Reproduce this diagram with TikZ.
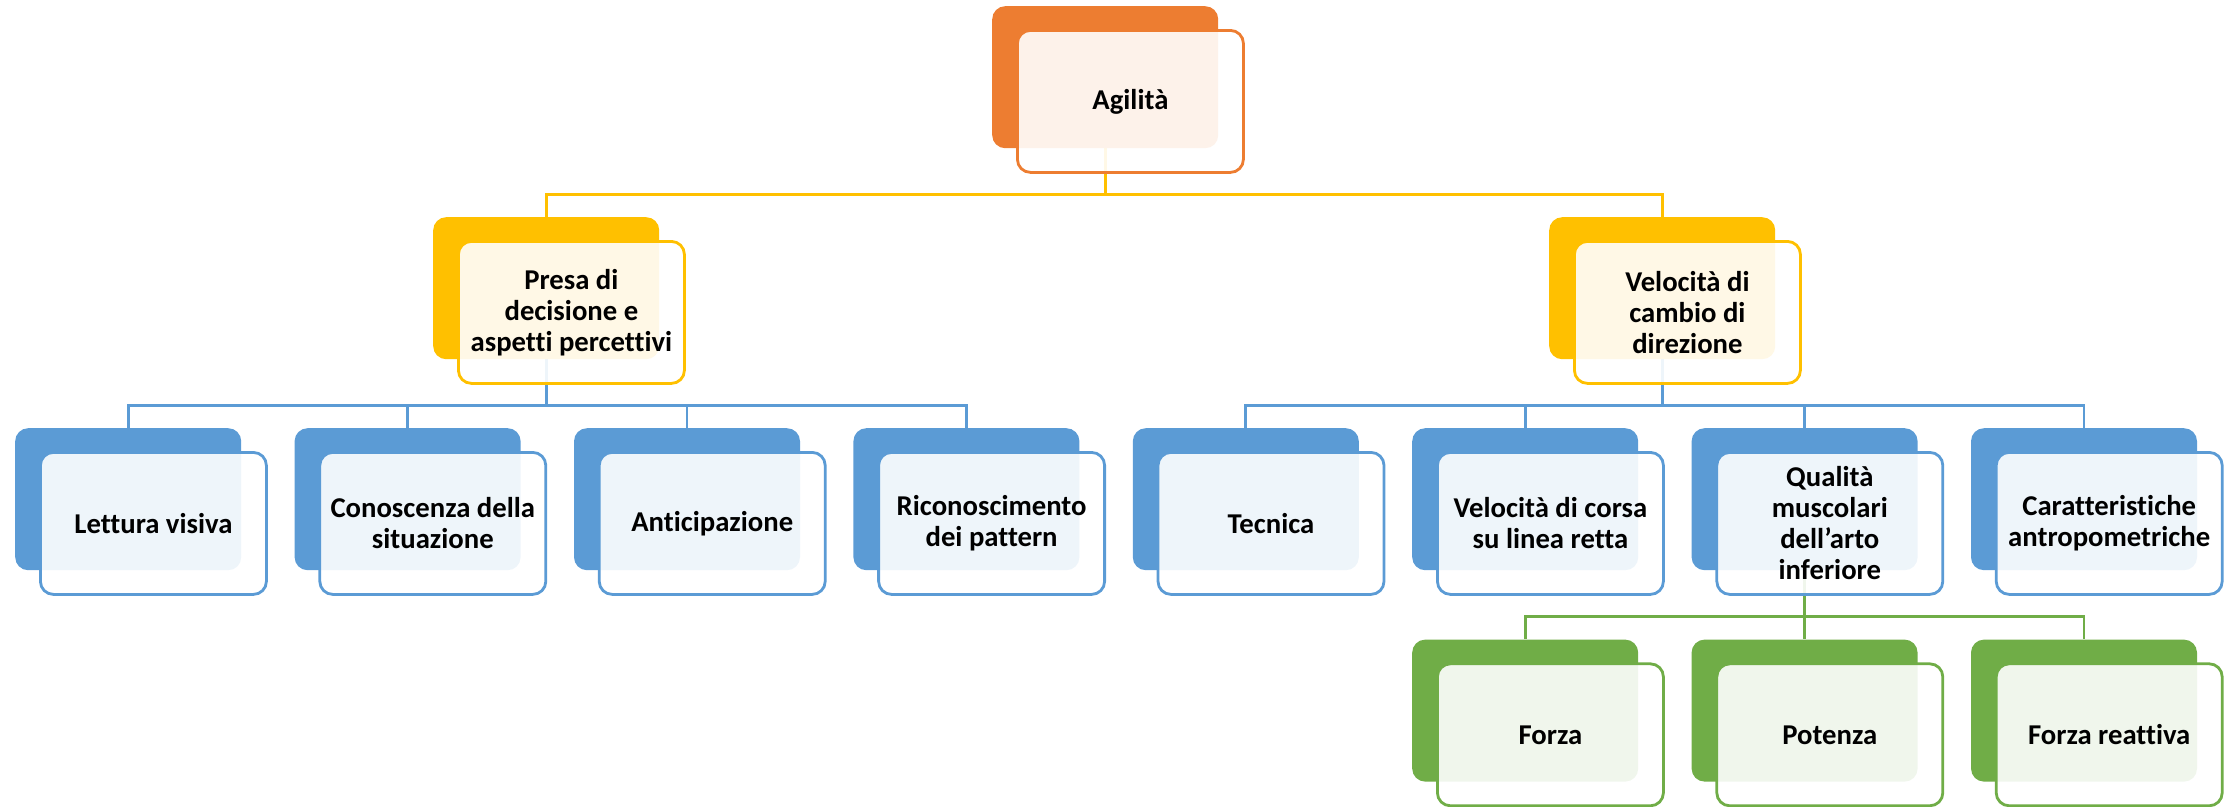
\documentclass[tikz,border=0pt]{standalone}
\usepackage{fontspec}
\setmainfont[Ligatures=NoCommon]{Carlito}
\usepackage{xcolor}
\definecolor{cOrange}{HTML}{ED7D31}
\definecolor{cYellow}{HTML}{FFC000}
\definecolor{cBlue}{HTML}{5B9BD5}
\definecolor{cGreen}{HTML}{70AD47}
\usetikzlibrary{positioning,backgrounds}
\tikzset{
  node-back/.style={fill=#1,rounded corners=13pt,inner sep=0pt,
    minimum width=226pt,minimum height=142pt,anchor=north west},
  node-front/.style={draw=#1,line width=2.8pt,rounded corners=13pt,
    fill=white,fill opacity=0.9,text opacity=1,inner sep=0pt,
    minimum width=226pt,minimum height=142pt,align=center,
    font=\bfseries\fontsize{28.7}{31}\selectfont},
  link/.style={line width=2.8pt,draw=#1},
}

\begin{document}
\begin{tikzpicture}[x=1pt,y=-1pt]
  \useasboundingbox (0,0) rectangle (2233,806);
  % back boxes
  \node[node-back=cOrange] at (992,6)   (agi)   {};
  \node[node-back=cYellow] at (433,217) (presa) {};
  \node[node-back=cYellow] at (1549,217)(velo)  {};
  \node[node-back=cBlue]   at (15,428)  (lett)  {};
  \node[node-back=cBlue,right=53pt of lett] (cono) {};
  \node[node-back=cBlue,right=53pt of cono] (anti) {};
  \node[node-back=cBlue,right=53pt of anti] (rico) {};
  \node[node-back=cBlue,right=53pt of rico] (tecn) {};
  \node[node-back=cBlue,right=53pt of tecn] (vcor) {};
  \node[node-back=cBlue,right=53pt of vcor] (qual) {};
  \node[node-back=cBlue,right=53pt of qual] (cara) {};
  \node[node-back=cGreen,below=69pt of vcor] (forz) {};
  \node[node-back=cGreen,below=69pt of qual] (pote) {};
  \node[node-back=cGreen,below=69pt of cara] (frea) {};
  % front boxes with text
  \node[node-front=cOrange,below right=23pt and 24pt of agi.north west]   (agi-t)   {Agilità};
  \node[node-front=cYellow,below right=23pt and 24pt of presa.north west] (presa-t) {Presa di\\decisione e\\aspetti percettivi};
  \node[node-front=cYellow,below right=23pt and 24pt of velo.north west]  (velo-t)  {Velocità di\\cambio di\\direzione};
  \node[node-front=cBlue,below right=23pt and 24pt of lett.north west]    (lett-t)  {Lettura visiva};
  \node[node-front=cBlue,below right=23pt and 24pt of cono.north west]    (cono-t)  {Conoscenza della\\situazione};
  \node[node-front=cBlue,below right=23pt and 24pt of anti.north west]    (anti-t)  {Anticipazione};
  \node[node-front=cBlue,below right=23pt and 24pt of rico.north west]    (rico-t)  {Riconoscimento\\dei pattern};
  \node[node-front=cBlue,below right=23pt and 24pt of tecn.north west]    (tecn-t)  {Tecnica};
  \node[node-front=cBlue,below right=23pt and 24pt of vcor.north west]    (vcor-t)  {Velocità di corsa\\su linea retta};
  \node[node-front=cBlue,below right=23pt and 24pt of qual.north west]    (qual-t)  {Qualità\\muscolari\\dell’arto\\inferiore};
  \node[node-front=cBlue,below right=23pt and 24pt of cara.north west]    (cara-t)  {Caratteristiche\\antropometriche};
  \node[node-front=cGreen,below right=23pt and 24pt of forz.north west]   (forz-t)  {Forza};
  \node[node-front=cGreen,below right=23pt and 24pt of pote.north west]   (pote-t)  {Potenza};
  \node[node-front=cGreen,below right=23pt and 24pt of frea.north west]   (frea-t)  {Forza reattiva};
  % connectors behind the boxes
  \begin{scope}[on background layer]
    \draw[link=cYellow] (agi.south) -- ++(0,46) -| (presa.north);
    \draw[link=cYellow] (agi.south) -- ++(0,46) -| (velo.north);
    \draw[link=cBlue] (presa.south) -- ++(0,46) -| (lett.north);
    \draw[link=cBlue] (presa.south) -- ++(0,46) -| (cono.north);
    \draw[link=cBlue] (presa.south) -- ++(0,46) -| (anti.north);
    \draw[link=cBlue] (presa.south) -- ++(0,46) -| (rico.north);
    \draw[link=cBlue] (velo.south) -- ++(0,46) -| (tecn.north);
    \draw[link=cBlue] (velo.south) -- ++(0,46) -| (vcor.north);
    \draw[link=cBlue] (velo.south) -- ++(0,46) -| (qual.north);
    \draw[link=cBlue] (velo.south) -- ++(0,46) -| (cara.north);
    \draw[link=cGreen] (qual.south) -- ++(0,46) -| (forz.north);
    \draw[link=cGreen] (qual.south) -- ++(0,46) -| (pote.north);
    \draw[link=cGreen] (qual.south) -- ++(0,46) -| (frea.north);
  \end{scope}
\end{tikzpicture}
\end{document}
